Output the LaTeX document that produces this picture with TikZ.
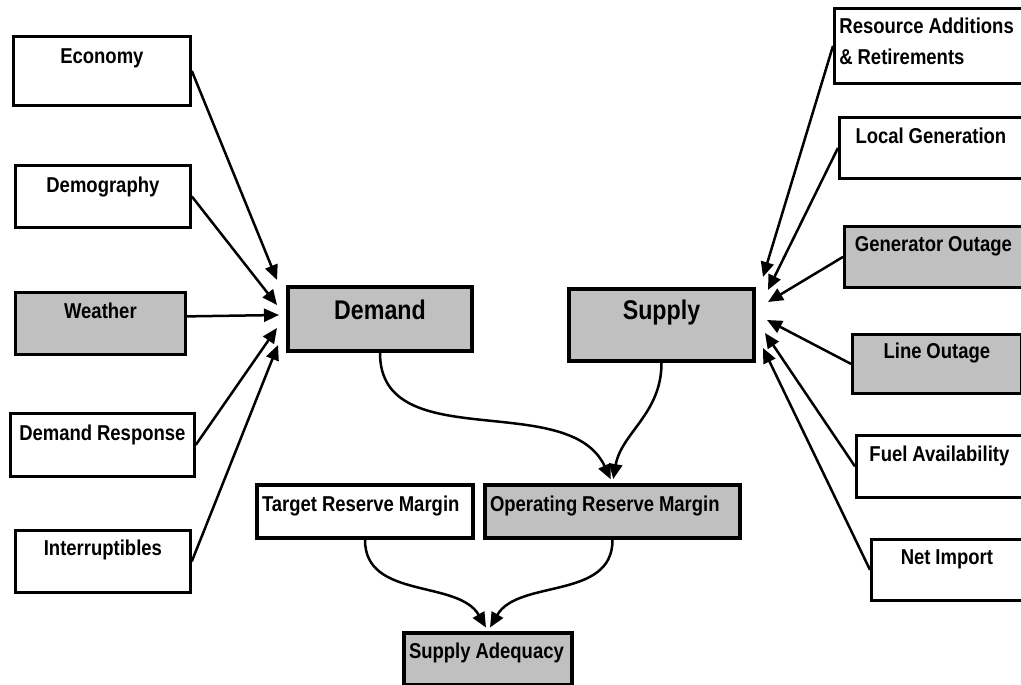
\documentclass[tikz,border=0pt]{standalone}
\usepackage{fontspec}
\usetikzlibrary{arrows.meta}
\newfontfamily\boxfont{Liberation Sans}[FakeStretch=0.86, WordSpace=0.95]
\definecolor{boxgray}{HTML}{C0C0C0}

\begin{document}
\begin{tikzpicture}[x=1pt, y=1pt, >={Triangle[length=15pt,width=13pt]},
        factor/.style={rectangle, draw, line width=2.8pt, anchor=north west, inner sep=0pt,
            font=\boxfont\bfseries\fontsize{21.5}{31.6}\selectfont},
        main node/.style={factor, line width=4pt, font=\boxfont\bfseries\fontsize{27}{30}\selectfont},
        margin node/.style={factor, line width=4pt, align=flush left, inner xsep=5pt},
        shaded/.style={fill=boxgray},
        link/.style={line width=2.5pt}]
            \useasboundingbox (0,0) rectangle (1021,685);

            \node[factor, minimum width=177pt, text height=26.7pt, text depth=42.3pt] at (12, 650) (economy) {Economy};
            \node[factor, minimum width=175pt, text height=27pt, text depth=35pt] at (14, 521) (demography) {Demography};
            \node[factor, shaded, minimum width=170pt, text height=26pt, text depth=36pt] at (14, 394) (weather) {Weather};
            \node[factor, minimum width=184pt, text height=27pt, text depth=36pt] at (9, 273) (response) {Demand Response};
            \node[factor, minimum width=175pt, text height=25pt, text depth=37pt] at (14, 156) (interrupt) {Interruptibles};

            \node[main node, shaded, minimum width=184pt, text height=33pt, text depth=31pt] at (286, 400) (demand) {Demand};
            \node[main node, shaded, minimum width=185pt, text height=31pt, text depth=41pt] at (567, 398) (supply) {Supply};

            \node[factor, align=flush left, inner xsep=5pt, text width=178pt, text height=24.7pt, text depth=50.3pt] at (833, 678) (resource) {Resource Additions\\\& Retirements};
            \node[factor, minimum width=183pt, text height=25.7pt, text depth=35.3pt] at (838, 569) (localgen) {Local Generation};
            \node[factor, shaded, minimum width=178pt, text height=25pt, text depth=36pt] at (843, 460) (genout) {Generator Outage};
            \node[factor, shaded, minimum width=169pt, text height=23.7pt, text depth=35.3pt] at (851, 352) (lineout) {Line Outage};
            \node[factor, minimum width=166pt, text height=26pt, text depth=36pt] at (855, 251) (fuel) {Fuel Availability};
            \node[factor, minimum width=151pt, text height=25.3pt, text depth=35.7pt] at (870, 147) (import) {Net Import};

            \node[margin node, text width=206pt, text height=27pt, text depth=26pt] at (255, 202) (target) {Target Reserve Margin};
            \node[margin node, shaded, text width=245pt, text height=27pt, text depth=26pt] at (483, 202) (orm) {Operating Reserve Margin};
            \node[margin node, shaded, text width=158pt, text height=26pt, text depth=26pt] at (402, 54) (adequacy) {Supply Adequacy};

            \coordinate (d1) at (277, 405);
            \coordinate (d2) at (277, 380);
            \coordinate (d3) at (279, 370);
            \coordinate (d4) at (277, 357);
            \coordinate (d5) at (278, 340);
            \coordinate (s1) at (763, 408);
            \coordinate (s2) at (768, 395);
            \coordinate (s3) at (768, 383);
            \coordinate (s4) at (767, 365);
            \coordinate (s5) at (765, 352);
            \coordinate (s6) at (763, 337);

            \path[->, link] (economy.east) edge (d1);
            \path[->, link] (demography.east) edge (d2);
            \path[->, link] ([yshift=7pt]weather.east) edge (d3);
            \path[->, link] (response.east) edge (d4);
            \path[->, link] (interrupt.east) edge (d5);

            \path[->, link] (resource.west) edge (s1);
            \path[->, link] (localgen.west) edge (s2);
            \path[->, link] (genout.west) edge (s3);
            \path[->, link] (lineout.west) edge (s4);
            \path[->, link] (fuel.west) edge (s5);
            \path[->, link] (import.west) edge (s6);

            \path[->, link, shorten >=4pt]
                (demand.south) edge[out=-90, in=115] (orm.north)
                (supply.south) edge[out=-90, in=80] (orm.north)
                (target.south) edge[out=-90, in=120] (adequacy.north)
                (orm.south) edge[out=-90, in=60] (adequacy.north)
                ;
        \end{tikzpicture}
\end{document}
